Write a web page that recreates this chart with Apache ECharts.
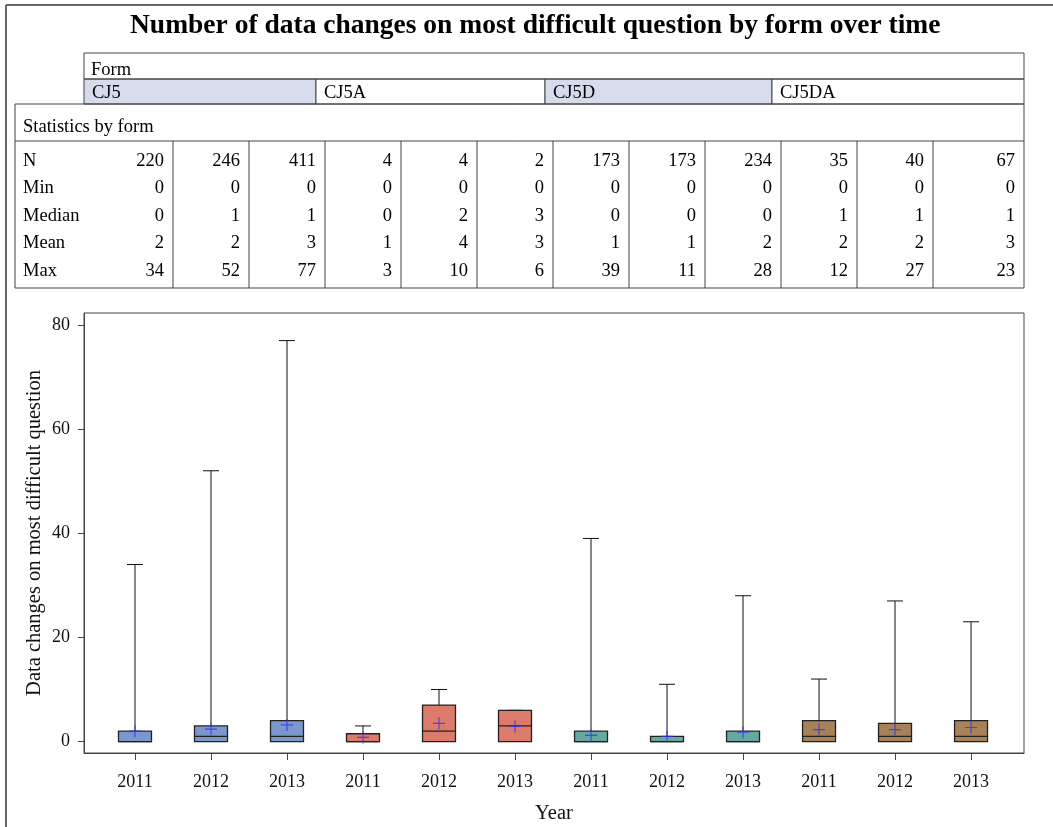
<!DOCTYPE html>
<html>
<head>
<meta charset="utf-8">
<script src="https://cdn.jsdelivr.net/npm/echarts@6/dist/echarts.min.js"></script>
<style>
html, body { margin: 0; padding: 0; background: #fff; }
#chart { width: 1053px; height: 827px; }
</style>
</head>
<body>
<div id="chart"></div>
<script>
// forms and years on the x axis
var forms = ['CJ5', 'CJ5A', 'CJ5D', 'CJ5DA'];
var years = ['2011', '2012', '2013', '2011', '2012', '2013', '2011', '2012', '2013', '2011', '2012', '2013'];
var boxForm = [0, 0, 0, 1, 1, 1, 2, 2, 2, 3, 3, 3];

// statistics table
var statN = [220, 246, 411, 4, 4, 2, 173, 173, 234, 35, 40, 67];
var statMin = [0, 0, 0, 0, 0, 0, 0, 0, 0, 0, 0, 0];
var statMedian = [0, 1, 1, 0, 2, 3, 0, 0, 0, 1, 1, 1];
var statMean = [2, 2, 3, 1, 4, 3, 1, 1, 2, 2, 2, 3];
var statMax = [34, 52, 77, 3, 10, 6, 39, 11, 28, 12, 27, 23];

// box quartiles and mean markers
var boxQ1 = [0, 0, 0, 0, 0, 0, 0, 0, 0, 0, 0, 0];
var boxQ3 = [2, 3, 4, 1.5, 7, 6, 2, 1, 2, 4, 3.5, 4];
var meanMarks = [2.0, 2.4, 3.2, 0.8, 3.5, 2.9, 1.2, 1.0, 1.8, 2.3, 2.3, 2.7];

var yTicks = [0, 20, 40, 60, 80];

var formColors = ['#7b97cc', '#dc7b6b', '#66a7a0', '#a6815a'];
var serif = 'Liberation Serif';
var lineCol = '#444';

var chart = echarts.init(document.getElementById('chart'));

var boxData = statMax.map(function (v, i) {
	return [i, statMin[i], boxQ1[i], statMedian[i], boxQ3[i], v];
});
var meanData = meanMarks.map(function (v, i) { return [i, v]; });
var xTicks = years.map(function (y, i) { return i; });

var option = {
	animation: false,
	title: {
		text: 'Number of data changes on most difficult question by form over time',
		left: 125,
		top: 7,
		textStyle: { fontFamily: serif, fontWeight: 'bold', fontSize: 27.5, color: '#000' }
	},
	grid: {
		left: 84, right: 29, top: 313, bottom: 74,
		outerBoundsMode: 'none',
		containLabel: false,
		show: true, borderColor: lineCol, borderWidth: 1
	},
	xAxis: {
		type: 'value',
		min: -0.671,
		max: 11.697,
		splitLine: { show: false },
		axisLine: { show: true, onZero: false, lineStyle: { color: lineCol } },
		axisTick: { show: true, customValues: xTicks, length: 7, lineStyle: { color: lineCol } },
		axisLabel: {
			customValues: xTicks,
			formatter: function (v) { return years[v]; },
			margin: 20,
			fontFamily: serif, fontSize: 18, color: '#111'
		},
		name: 'Year',
		nameLocation: 'middle',
		nameGap: 50,
		nameTextStyle: { fontFamily: serif, fontSize: 20.5, color: '#111' }
	},
	yAxis: {
		type: 'value',
		min: -2.2,
		max: 82.3,
		splitLine: { show: false },
		axisLine: { show: true, onZero: false, lineStyle: { color: lineCol } },
		axisTick: { show: true, customValues: yTicks, length: 6, lineStyle: { color: lineCol } },
		axisLabel: {
			customValues: yTicks,
			margin: 14,
			fontFamily: serif, fontSize: 18, color: '#111'
		},
		name: 'Data changes on most difficult question',
		nameLocation: 'middle',
		nameRotate: 90,
		nameGap: 39,
		nameMoveOverlap: false,
		nameTextStyle: { fontFamily: serif, fontSize: 20.5, color: '#111' }
	},
	series: [{
		type: 'custom',
		data: boxData,
		encode: { x: 0, y: [1, 5] },
		renderItem: function (params, api) {
			var i = api.value(0);
			var cx = api.coord([i, 0])[0];
			var band = api.size([1, 0])[0];
			var hw = band * 0.217;
			var cw = band * 0.105;
			var yMin = api.coord([i, api.value(1)])[1];
			var yQ1 = api.coord([i, api.value(2)])[1];
			var yMed = api.coord([i, api.value(3)])[1];
			var yQ3 = api.coord([i, api.value(4)])[1];
			var yMax = api.coord([i, api.value(5)])[1];
			var ws = { stroke: '#111', lineWidth: 1 };
			var bs = { stroke: '#222', lineWidth: 1.3 };
			return {
				type: 'group',
				children: [
					{ type: 'line', shape: { x1: cx, y1: yQ3, x2: cx, y2: yMax }, style: ws },
					{ type: 'line', shape: { x1: cx - cw, y1: yMax, x2: cx + cw, y2: yMax }, style: ws },
					{ type: 'line', shape: { x1: cx, y1: yQ1, x2: cx, y2: yMin }, style: ws },
					{ type: 'rect', shape: { x: cx - hw, y: yQ3, width: hw * 2, height: yQ1 - yQ3 },
						style: { fill: formColors[boxForm[i]], stroke: '#222', lineWidth: 1.3 } },
					{ type: 'line', shape: { x1: cx - hw, y1: yMed, x2: cx + hw, y2: yMed }, style: bs }
				]
			};
		},
		z: 2
	}, {
		type: 'scatter',
		data: meanData,
		symbol: 'path://M5.4,0h1.2v5.4h5.4v1.2h-5.4v5.4h-1.2v-5.4h-5.4v-1.2h5.4z',
		symbolSize: 12,
		itemStyle: { color: '#2f36f0' },
		z: 5
	}]
};
chart.setOption(option);

// tables above the plot
var g = [];
var txt = function (x, y, s, align) {
	g.push({ type: 'text', x: x, y: y, silent: true,
		style: { text: String(s), fontFamily: serif, fontSize: 18.5, fill: '#000',
			align: align || 'left', verticalAlign: 'middle' } });
};
var ln = function (x1, y1, x2, y2, w, c) {
	g.push({ type: 'line', silent: true, shape: { x1: x1, y1: y1, x2: x2, y2: y2 },
		style: { stroke: c || lineCol, lineWidth: w || 1 } });
};

// outer frame
ln(6, 5, 1053, 5, 2, '#666');
ln(6, 5, 6, 827, 2, '#666');

// form header table
var formEdges = [84, 316, 545, 772, 1024];
forms.forEach(function (f, k) {
	g.push({ type: 'rect', silent: true,
		shape: { x: formEdges[k], y: 79, width: formEdges[k + 1] - formEdges[k], height: 25 },
		style: { fill: k % 2 === 0 ? '#d6dcec' : '#fff', stroke: lineCol, lineWidth: 1 } });
	txt(formEdges[k] + 8, 93, f);
});
g.push({ type: 'rect', silent: true, shape: { x: 84, y: 53, width: 940, height: 26 },
	style: { fill: 'none', stroke: lineCol, lineWidth: 1 } });
txt(91, 70, 'Form');

// statistics table
g.push({ type: 'rect', silent: true, shape: { x: 15, y: 104, width: 1009, height: 184 },
	style: { fill: 'none', stroke: lineCol, lineWidth: 1 } });
ln(15, 141, 1024, 141);
txt(23, 127, 'Statistics by form');
var rows = [['N', statN], ['Min', statMin], ['Median', statMedian], ['Mean', statMean], ['Max', statMax]];
var rowY = [161, 188.5, 216, 243.5, 271];
for (var i = 0; i < years.length; i++) {
	var right = i < years.length - 1 ? chart.convertToPixel({ xAxisIndex: 0 }, i + 0.5) : 1024;
	if (i < years.length - 1) ln(right, 141, right, 288);
	rows.forEach(function (r, k) { txt(right - 9, rowY[k], r[1][i], 'right'); });
}
rows.forEach(function (r, k) { txt(23, rowY[k], r[0]); });

chart.setOption({ graphic: g });
</script>
</body>
</html>
